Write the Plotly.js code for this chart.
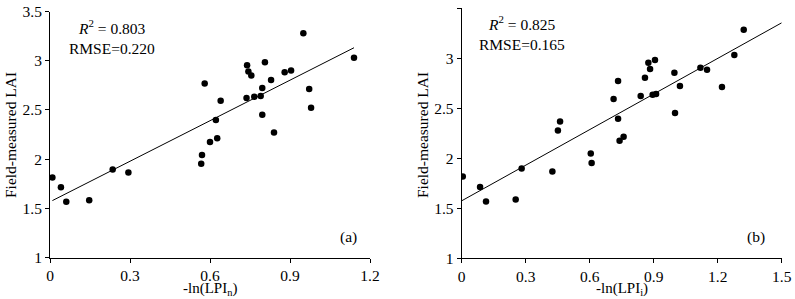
<!DOCTYPE html>
<html><head><meta charset="utf-8">
<script src="https://cdn.plot.ly/plotly-3.0.1.min.js"></script>
<style>html,body{margin:0;padding:0;background:#fff}#chart{width:795px;height:299px}</style>
</head><body><div id="chart"></div>
<script>
// Panel (a): -ln(LPI_n) vs field-measured LAI
const xA = [0.009,0.041,0.061,0.147,0.235,0.294,0.570,0.567,0.600,0.627,0.622,0.640,0.580,
            0.739,0.744,0.755,0.806,0.737,0.766,0.790,0.796,0.796,0.829,0.840,0.880,0.904,
            0.950,0.972,0.979,1.140];
const yA = [1.815,1.716,1.567,1.584,1.896,1.866,2.042,1.953,2.174,2.214,2.397,2.594,2.770,
            2.953,2.892,2.851,2.984,2.621,2.634,2.641,2.723,2.451,2.804,2.272,2.882,2.902,
            3.278,2.712,2.522,3.031];
// Panel (b): -ln(LPI_i) vs field-measured LAI
const xB = [0.005,0.086,0.114,0.253,0.281,0.425,0.605,0.609,0.451,0.461,0.712,0.733,0.733,
            0.740,0.759,0.839,0.859,0.875,0.883,0.906,0.895,0.911,0.997,1.000,1.023,1.119,
            1.150,1.220,1.278,1.322];
const yB = [1.817,1.713,1.567,1.587,1.897,1.867,2.047,1.954,2.279,2.369,2.592,2.773,2.395,
            2.175,2.215,2.622,2.805,2.955,2.892,2.982,2.635,2.642,2.855,2.452,2.722,2.905,
            2.885,2.712,3.032,3.285];
// Fitted lines (endpoints of regression line)
const fitAx = [0.009, 1.14];
const fitAy = [1.58, 3.132];
const fitBx = [0.0, 1.5];
const fitBy = [1.575, 3.355];
const statsA = ["<i>R</i><sup>2</sup> = 0.803", "RMSE=0.220"];
const statsB = ["<i>R</i><sup>2</sup> = 0.825", "RMSE=0.165"];
const panelLabels = ["(a)", "(b)"];
const xTitles = ["-ln(LPI<sub>n</sub>)", "-ln(LPI<sub>i</sub>)"];
const yTitle = "Field-measured LAI";
const yTicks = [1, 1.5, 2, 2.5, 3, 3.5];
const yTickText = ["1","1.5","2","2.5","3","3.5"];
const xTicksA = [0, 0.3, 0.6, 0.9, 1.2];
const xTickTextA = ["0","0.3","0.6","0.9","1.2"];
const xTicksB = [0, 0.3, 0.6, 0.9, 1.2, 1.5];
const xTickTextB = ["0","0.3","0.6","0.9","1.2","1.5"];

const FONT = '"Liberation Serif"';
const mk = {color: "#000", size: 6.5};
const traces = [
  {x: xA, y: yA, mode: "markers", type: "scatter", marker: mk, xaxis: "x", yaxis: "y"},
  {x: fitAx, y: fitAy, mode: "lines", type: "scatter", line: {color: "#000", width: 1}, xaxis: "x", yaxis: "y"},
  {x: xB, y: yB, mode: "markers", type: "scatter", marker: mk, xaxis: "x2", yaxis: "y2"},
  {x: fitBx, y: fitBy, mode: "lines", type: "scatter", line: {color: "#000", width: 1}, xaxis: "x2", yaxis: "y2"}
];
const axBase = {
  showgrid: false, zeroline: false, showline: true, linecolor: "#000", linewidth: 1,
  ticks: "outside", ticklen: 4, tickcolor: "#000", tickwidth: 1,
  tickfont: {family: FONT, size: 15.5, color: "#000"}, fixedrange: true
};
const W = 795, H = 299;
const dA = [50/W, 370/W], dB = [461.7/W, 781.7/W];
const yA_dom = [1-257.7/H, 1-11.5/H], yB_dom = [1-258.3/H, 1-8.3/H];
function ann(text, x, y, size, extra) {
  return Object.assign({text, x: x/W, y: 1-y/H, xref: "paper", yref: "paper", showarrow: false,
    xanchor: "center", yanchor: "middle", borderpad: 0,
    font: {family: FONT, size: size, color: "#000"}}, extra || {});
}
const layout = {
  width: W, height: H, margin: {l: 0, r: 0, t: 0, b: 0},
  font: {family: FONT},
  paper_bgcolor: "#fff", plot_bgcolor: "#fff", showlegend: false,
  xaxis: Object.assign({}, axBase, {domain: dA, range: [0, 1.2], tickvals: xTicksA, ticktext: xTickTextA, anchor: "y"}),
  yaxis: Object.assign({}, axBase, {domain: yA_dom, range: [1, 3.5], tickvals: yTicks, ticktext: yTickText, anchor: "x"}),
  xaxis2: Object.assign({}, axBase, {domain: dB, range: [0, 1.5], tickvals: xTicksB, ticktext: xTickTextB, anchor: "y2"}),
  yaxis2: Object.assign({}, axBase, {domain: yB_dom, range: [1, 3.5], tickvals: yTicks, ticktext: yTickText, anchor: "x2"}),
  annotations: [
    ann(statsA[0], 112, 38, 15.5, {yanchor: "bottom"}),
    ann(statsA[1], 112, 39, 15.5, {yanchor: "top"}),
    ann(statsB[0], 522, 34, 15.5, {yanchor: "bottom"}),
    ann(statsB[1], 522, 35, 15.5, {yanchor: "top"}),
    ann(panelLabels[0], 348, 237, 15.5),
    ann(panelLabels[1], 756, 237, 15.5),
    ann(xTitles[0], 210, 299, 15, {yanchor: "bottom"}),
    ann(xTitles[1], 622, 299, 15, {yanchor: "bottom"}),
    ann(yTitle, 11, 135, 15.5, {textangle: -90}),
    ann(yTitle, 423, 135, 15.5, {textangle: -90})
  ]
};
Plotly.newPlot("chart", traces, layout, {displayModeBar: false, staticPlot: true});
</script></body></html>
